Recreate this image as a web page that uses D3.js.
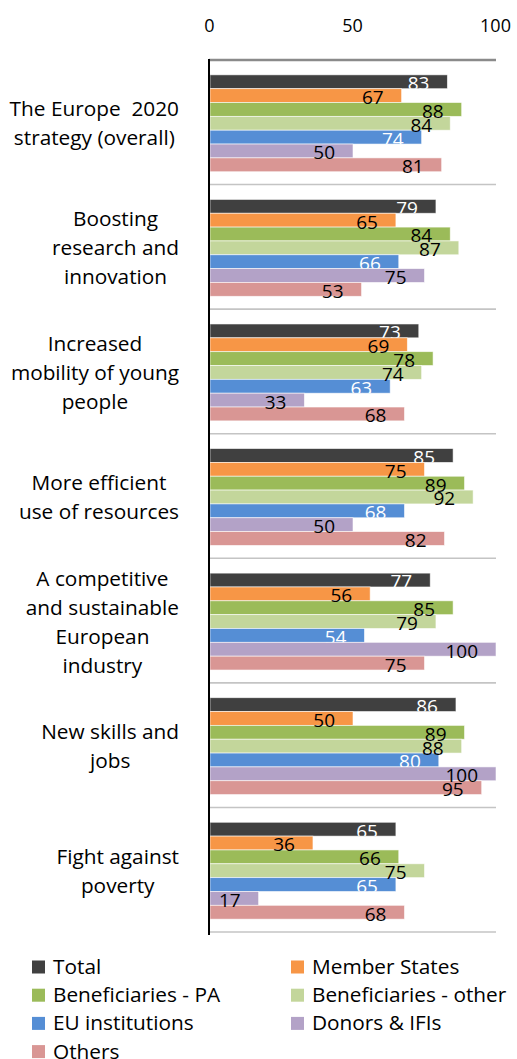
<!DOCTYPE html>
<html><head><meta charset="utf-8">
<script src="https://cdn.jsdelivr.net/npm/d3@7"></script>
<style>
html,body{margin:0;padding:0;background:#fff;}
svg{display:block;font-family:"Open Sans","Noto Sans",Lato,sans-serif;}
</style></head>
<body><svg id="c" width="517" height="1059"></svg>
<script>
const categories = [
  ["The Europe  2020", "strategy (overall)"],
  ["Boosting", "research and", "innovation"],
  ["Increased", "mobility of young", "people"],
  ["More efficient", "use of resources"],
  ["A competitive", "and sustainable", "European", "industry"],
  ["New skills and", "jobs"],
  ["Fight against", "poverty"]
];
const seriesNames = ["Total","Member States","Beneficiaries - PA","Beneficiaries - other","EU institutions","Donors & IFIs","Others"];
const seriesColors = ["#404040","#F79646","#9BBB59","#C3D69B","#558ED5","#B3A2C7","#D99694"];
const labelColors = ["#fff","#000","#000","#000","#fff","#000","#000"];
const total      = [83,79,73,85,77,86,65];
const memberStates = [67,65,69,75,56,50,36];
const benPA      = [88,84,78,89,85,89,66];
const benOther   = [84,87,74,92,79,88,75];
const euInst     = [74,66,63,68,54,80,65];
const donors     = [50,75,33,50,100,100,17];
const others     = [81,53,68,82,75,95,68];
const seriesValues = [total, memberStates, benPA, benOther, euInst, donors, others];
const tickValues = [0,50,100];

const svg = d3.select("#c");
const x = d3.scaleLinear().domain([0,100]).range([210,496]);
const catIdx = d3.range(categories.length);
const y = d3.scaleBand().domain(catIdx).range([60,932]).paddingInner(0).paddingOuter(0);
const ys = d3.scaleBand().domain(d3.range(seriesNames.length)).range([1, y.bandwidth()+1]).paddingInner(0).paddingOuter(1);

// category separators
svg.append("g").selectAll("line").data(catIdx).join("line")
  .attr("x1", 210).attr("x2", 496)
  .attr("y1", d => y(d)+y.bandwidth()).attr("y2", d => y(d)+y.bandwidth())
  .attr("stroke", "#c4c4c4").attr("stroke-width", 1.6);

// top axis
const axis = d3.axisTop(x).tickValues(tickValues).tickSize(0).tickPadding(0);
const ag = svg.append("g").attr("transform","translate(0,60)").call(axis);
ag.select(".domain").attr("stroke","#8a8a8a").attr("stroke-width",2.5).attr("d","M209,0H496");
ag.selectAll("text").attr("font-family","'Open Sans',sans-serif").attr("font-size","18px")
  .attr("fill","#000").attr("dy",0).attr("y",-28).attr("dx",-1);

// bars
const defs = svg.append("defs");
const data = [];
catIdx.forEach(ci => seriesValues.forEach((vals, si) => data.push({ci, si, v: vals[ci]})));
data.forEach((d,i) => {
  defs.append("clipPath").attr("id","cp"+i).append("rect")
    .attr("x", x(0)).attr("y", y(d.ci)+ys(d.si)).attr("width", x(d.v)-x(0)).attr("height", ys.bandwidth());
});
svg.append("g").selectAll("rect").data(data).join("rect")
  .attr("x", x(0)).attr("y", d => y(d.ci)+ys(d.si))
  .attr("width", d => x(d.v)-x(0)).attr("height", ys.bandwidth())
  .attr("fill", d => seriesColors[d.si])
  .attr("stroke","#fff").attr("stroke-width",0.8).attr("stroke-opacity",0.7);

// data labels
svg.append("g").selectAll("text").data(data).join("text")
  .attr("x", d => x(d.v)-18)
  .attr("y", d => y(d.ci)+ys(d.si)+ys.bandwidth()+1.5)
  .attr("text-anchor","end")
  .attr("font-size","19px")
  .attr("fill", d => labelColors[d.si])
  .attr("clip-path", (d,i) => labelColors[d.si]==="#fff" ? "url(#cp"+i+")" : null)
  .text(d => d.v);

// vertical axis line
svg.append("line").attr("x1",209).attr("x2",209).attr("y1",59).attr("y2",935)
  .attr("stroke","#000").attr("stroke-width",2);

// category labels
const lh = 29;
catIdx.forEach(ci => {
  const lines = categories[ci];
  const g = svg.append("g");
  const cy = y(ci) + y.bandwidth()/2 + 1;
  const t = g.selectAll("text").data(lines).join("text")
    .attr("font-size","20.8px").attr("fill","#000").attr("text-anchor","middle")
    .style("white-space","pre")
    .attr("y", (d,i) => cy + (i - (lines.length-1)/2)*lh + 7.5)
    .text(d => d);
  let maxW = 0;
  t.each(function(){ maxW = Math.max(maxW, this.getComputedTextLength()); });
  t.attr("x", 179 - maxW/2);
});

// legend
const legX = [32, 291];
const legY0 = 967, legDy = 28.2;
const lg = svg.append("g").selectAll("g").data(seriesNames).join("g")
  .attr("transform", (d,i) => `translate(${legX[i%2]},${legY0 + Math.floor(i/2)*legDy})`);
lg.append("rect").attr("x",0).attr("y",-6.5).attr("width",13).attr("height",13)
  .attr("fill", (d,i) => seriesColors[i]);
lg.append("text").attr("x",21).attr("y",7).attr("font-size","20.8px").attr("fill","#000").text(d => d);
</script></body></html>
